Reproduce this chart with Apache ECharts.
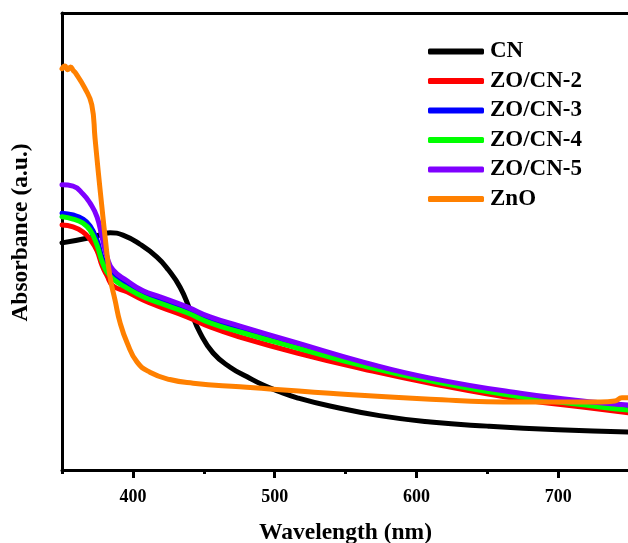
<!DOCTYPE html>
<html>
<head>
<meta charset="utf-8">
<script src="https://cdn.jsdelivr.net/npm/echarts@6/dist/echarts.min.js"></script>
<style>html,body{margin:0;padding:0;background:#fff;}#c{width:628px;height:543px;}</style>
</head>
<body>
<div id="c"></div>
<script>
const FONT = '"Times New Roman","Liberation Serif",serif';
const seriesNames = ['CN','ZO/CN-2','ZO/CN-3','ZO/CN-4','ZO/CN-5','ZnO'];
const seriesColors = ['#000000','#ff0000','#0000ff','#00ff00','#7f00ff','#ff8000'];
const xTickLabels = [400,500,600,700];
const xMinorTicks = [350,450,550,650,750];

const cnX = [350,372,384,393,405,417,425,433.3,440.4,447.4,456.6,468.6,480.6,491.9,503.9,515.9,539,574,610,650,700,750];
const cnY = [0.497,0.510,0.519,0.514,0.494,0.466,0.438,0.400,0.350,0.300,0.256,0.225,0.204,0.186,0.171,0.158,0.140,0.119,0.105,0.096,0.088,0.083];

const compX = [350,357.8,364.8,369.8,374.7,378.2,381.8,386,395.9,407.2,419.2,438.2,454.5,475.6,515.9,562.5,609.8,673.3,729.8,750];
const cn2Y = [0.536,0.532,0.521,0.505,0.480,0.448,0.425,0.403,0.390,0.372,0.357,0.335,0.313,0.291,0.256,0.221,0.190,0.155,0.133,0.125];
const cn3Y = [0.562,0.558,0.549,0.534,0.503,0.466,0.442,0.427,0.405,0.385,0.372,0.350,0.328,0.308,0.274,0.232,0.197,0.164,0.142,0.138];
const cn4Y = [0.554,0.549,0.540,0.525,0.492,0.457,0.433,0.418,0.398,0.379,0.365,0.344,0.322,0.302,0.267,0.228,0.195,0.160,0.138,0.131];
const cn5Y = [0.624,0.621,0.604,0.584,0.554,0.510,0.466,0.438,0.414,0.392,0.379,0.357,0.335,0.315,0.278,0.236,0.201,0.168,0.147,0.142];

const znoX = [350,352,354,356,358,359.5,366,371,373.3,375.6,378,380.4,383.9,387.4,391,396,403,412,426,442.5,475.6,539,610,673,730,740,745,750];
const znoY = [0.878,0.884,0.876,0.882,0.874,0.869,0.836,0.799,0.726,0.652,0.580,0.510,0.422,0.372,0.322,0.278,0.236,0.214,0.198,0.190,0.182,0.168,0.155,0.149,0.149,0.151,0.158,0.158];

const zip = (xs, ys) => xs.map((x, i) => [x, ys[i]]);
const seriesData = [zip(cnX, cnY), zip(compX, cn2Y), zip(compX, cn3Y), zip(compX, cn4Y), zip(compX, cn5Y), zip(znoX, znoY)];

const chart = echarts.init(document.getElementById('c'), null, {renderer: 'canvas'});
const baseAxis = {type: 'value', min: 350, max: 750, splitLine: {show: false}};
chart.setOption({
  animation: false,
  backgroundColor: '#fff',
  grid: {left: 62, right: -1, top: 13, bottom: 73, containLabel: false, outerBoundsMode: 'none'},
  legend: {
    orient: 'vertical', left: 428, top: 40, padding: 0,
    itemWidth: 56, itemHeight: 6, itemGap: 6.5, icon: 'roundRect',
    textStyle: {fontFamily: FONT, fontWeight: 'bold', fontSize: 23, lineHeight: 21, color: '#000', padding: [0, 0, 0, 1]},
    data: seriesNames
  },
  xAxis: [
    Object.assign({}, baseAxis, {
      position: 'bottom',
      name: 'Wavelength (nm)', nameLocation: 'middle', nameGap: 51,
      nameTextStyle: {fontFamily: FONT, fontWeight: 'bold', fontSize: 23.5, color: '#000'},
      axisLine: {show: true, lineStyle: {color: '#000', width: 3}},
      axisTick: {show: true, inside: false, length: 8, lineStyle: {color: '#000', width: 3}, customValues: xTickLabels},
      axisLabel: {show: true, margin: 18, fontFamily: FONT, fontWeight: 'bold', fontSize: 18, color: '#000', customValues: xTickLabels}
    }),
    Object.assign({}, baseAxis, {
      position: 'bottom',
      axisLine: {show: false},
      axisTick: {show: true, inside: false, length: 4, lineStyle: {color: '#000', width: 3}, customValues: xMinorTicks},
      axisLabel: {show: false}
    }),
    Object.assign({}, baseAxis, {
      position: 'top',
      axisLine: {show: true, lineStyle: {color: '#000', width: 3}},
      axisTick: {show: false},
      axisLabel: {show: false}
    })
  ],
  yAxis: {
    type: 'value', min: 0, max: 1,
    name: 'Absorbance (a.u.)', nameLocation: 'middle', nameGap: 29,
    nameTextStyle: {fontFamily: FONT, fontWeight: 'bold', fontSize: 23.5, color: '#000', padding: [0, 0, 0, 18]},
    axisLine: {show: true, lineStyle: {color: '#000', width: 3}},
    axisTick: {show: false},
    axisLabel: {show: false},
    splitLine: {show: false}
  },
  series: seriesNames.map((name, i) => ({
    name: name, type: 'line', xAxisIndex: 0, yAxisIndex: 0,
    data: seriesData[i],
    showSymbol: false, symbol: 'none',
    smooth: 0.5,
    color: seriesColors[i],
    lineStyle: {width: 5, color: seriesColors[i], cap: 'round', join: 'round'},
    z: 2 + i
  }))
});
</script>
</body>
</html>
